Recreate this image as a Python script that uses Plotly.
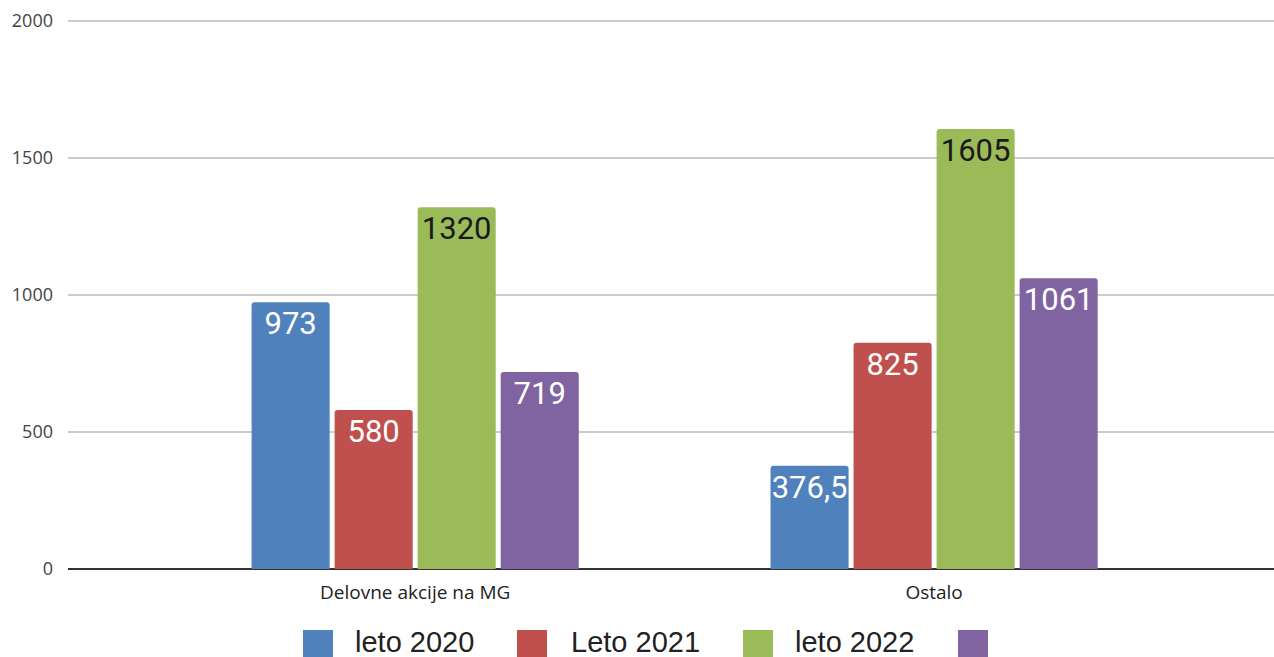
import plotly.graph_objects as go

categories = ["Delovne akcije na MG", "Ostalo"]
series_names = ["leto 2020", "Leto 2021", "leto 2022", ""]
values_2020 = [973, 376.5]
values_2021 = [580, 825]
values_2022 = [1320, 1605]
values_s4 = [719, 1061]
series_values = [values_2020, values_2021, values_2022, values_s4]
colors = ["#4F81BD", "#C0504D", "#9BBB59", "#8064A2"]
label_colors = ["#FFFFFF", "#FFFFFF", "#1A1A1A", "#FFFFFF"]
y_ticks = [0, 500, 1000, 1500, 2000]

W, H = 1274, 657
ML, MR, MT, MB = 68, 0, 18, 88
PW, PH = W - ML - MR, H - MT - MB


def fmt(v):
    s = ("%g" % v)
    return s.replace(".", ",")


fig = go.Figure()
for name, vals, col, lc in zip(series_names, series_values, colors, label_colors):
    fig.add_trace(go.Bar(
        x=categories, y=vals, name=name,
        marker=dict(color=col, line=dict(width=0), cornerradius=3),
        text=[fmt(v) for v in vals],
        textposition="inside", insidetextanchor="end", textangle=0,
        textfont=dict(family="Roboto", size=31, color=lc),
        constraintext="none",
        showlegend=False,
    ))

# manual legend (large swatches)
def px_x(p):
    return (p - ML) / PW


def px_y(p):
    return (H - MB - p) / PH


legend_sw_x = [303, 517, 743, 958]
legend_tx_x = [353, 569, 793, 1008]
shapes = []
annotations = []
for i, (name, col) in enumerate(zip(series_names, colors)):
    shapes.append(dict(type="rect", xref="paper", yref="paper",
                       x0=px_x(legend_sw_x[i]), x1=px_x(legend_sw_x[i] + 30),
                       y0=px_y(660), y1=px_y(630),
                       fillcolor=col, line=dict(width=0), layer="above"))
    if name:
        annotations.append(dict(text=name, xref="paper", yref="paper",
                                x=px_x(legend_tx_x[i]), y=px_y(642),
                                xanchor="left", yanchor="middle", showarrow=False,
                                font=dict(family="Liberation Sans", size=29, color="#222222")))

fig.update_layout(
    width=W, height=H,
    margin=dict(l=ML, r=MR, t=MT, b=MB),
    paper_bgcolor="white", plot_bgcolor="white",
    barmode="group", bargap=0.36, bargroupgap=0.06,
    shapes=shapes, annotations=annotations,
    showlegend=False,
    xaxis=dict(range=[-0.669, 1.655], showgrid=False, ticks="",
               ticklabelstandoff=10,
               tickfont=dict(family="Open Sans", size=19, color="#222222"),
               showline=False, zeroline=False),
    yaxis=dict(range=[0, 2010], tickvals=y_ticks, showgrid=True,
               gridcolor="#CCCCCC", gridwidth=2,
               zeroline=True, zerolinecolor="#333333", zerolinewidth=2,
               ticks="", ticklabelstandoff=14,
               tickfont=dict(family="Open Sans", size=18, color="#444444"),
               showline=False),
)

fig.write_html("out.html", config={"displayModeBar": False},
               post_script="document.body.style.margin='0';document.body.style.overflow='hidden';")
